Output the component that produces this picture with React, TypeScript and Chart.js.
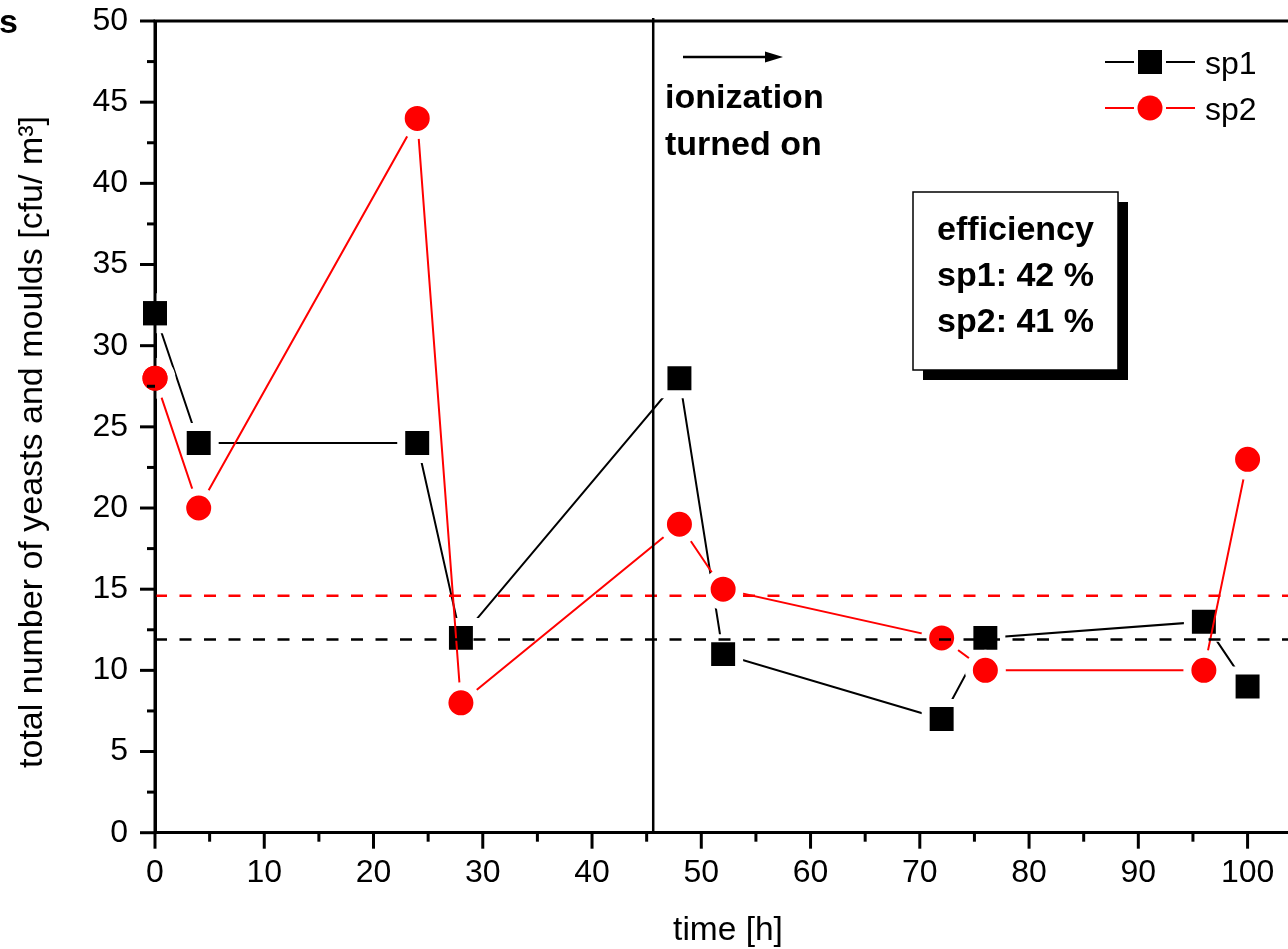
import React, { useEffect, useRef } from "react";
import { Chart, registerables } from "chart.js";

Chart.register(...registerables);

// ---------- data ----------
const timeHours = [0, 4, 24, 28, 48, 52, 72, 76, 96, 100];
const sp1Values = [32, 24, 24, 12, 28, 11, 7, 12, 13, 9];
const sp2Values = [28, 20, 44, 8, 19, 15, 12, 10, 10, 23];
const seriesLabels = ["sp1", "sp2"];
const seriesColors = ["#000000", "#ff0000"];

const xMajorTicks = [0, 10, 20, 30, 40, 50, 60, 70, 80, 90, 100];
const xMinorTicks = [5, 15, 25, 35, 45, 55, 65, 75, 85, 95];
const yMajorTicks = [0, 5, 10, 15, 20, 25, 30, 35, 40, 45, 50];
const yMinorTicks = [2.5, 7.5, 12.5, 17.5, 22.5, 27.5, 32.5, 37.5, 42.5, 47.5];

const ionizationTime = 45.6;
const sp1Level = 11.9;
const sp2Level = 14.6;

const xTitle = "time [h]";
const yTitle = "total number of yeasts and moulds [cfu/ m³]";
const annotationLines = ["ionization", "turned on"];
const efficiencyLines = ["efficiency", "sp1: 42 %", "sp2: 41 %"];
const cornerText = "s";

const FONT = '"Liberation Sans", Arial, Helvetica, sans-serif';

const decorPlugin = {
  id: "decor",
  afterDatasetsDraw(chart: any) {
    const { ctx, chartArea: a, scales } = chart;
    const xs = scales.x;
    const ys = scales.y;
    ctx.save();

    // reference (dashed) levels
    ctx.lineWidth = 2.5;
    ctx.setLineDash([12, 12.5]);
    const levels: [number, string][] = [
      [sp2Level, seriesColors[1]],
      [sp1Level, seriesColors[0]],
    ];
    levels.forEach(([v, c]) => {
      const y = ys.getPixelForValue(v);
      ctx.strokeStyle = c;
      ctx.beginPath();
      ctx.moveTo(a.left, y);
      ctx.lineTo(a.right, y);
      ctx.stroke();
    });
    ctx.setLineDash([]);

    // redraw left axis line and markers lying on it
    ctx.strokeStyle = "#000";
    ctx.lineWidth = 3;
    ctx.beginPath();
    ctx.moveTo(a.left, a.top);
    ctx.lineTo(a.left, a.bottom);
    ctx.stroke();
    chart.data.datasets.forEach((ds: any, di: number) => {
      const meta = chart.getDatasetMeta(di);
      meta.data.forEach((pt: any, i: number) => {
        if (ds.data[i].x !== xs.min) return;
        ctx.fillStyle = ds.borderColor;
        ctx.beginPath();
        if (ds.pointStyle === "rect") {
          ctx.rect(pt.x - 12, pt.y - 12, 24, 24);
        } else {
          ctx.arc(pt.x, pt.y, 12.5, 0, Math.PI * 2);
        }
        ctx.fill();
      });
    });

    // tick marks (outward)
    ctx.strokeStyle = "#000";
    ctx.lineWidth = 3;
    ctx.lineCap = "butt";
    const seg = (x1: number, y1: number, x2: number, y2: number) => {
      ctx.beginPath();
      ctx.moveTo(x1, y1);
      ctx.lineTo(x2, y2);
      ctx.stroke();
    };
    xMajorTicks.forEach((v) => {
      const x = xs.getPixelForValue(v);
      seg(x, a.bottom, x, a.bottom + 16);
    });
    xMinorTicks.forEach((v) => {
      const x = xs.getPixelForValue(v);
      seg(x, a.bottom, x, a.bottom + 9);
    });
    yMajorTicks.forEach((v) => {
      const y = ys.getPixelForValue(v);
      seg(a.left - 15, y, a.left, y);
    });
    yMinorTicks.forEach((v) => {
      const y = ys.getPixelForValue(v);
      seg(a.left - 8, y, a.left, y);
    });

    // top frame line
    seg(a.left - 1.5, a.top, a.right, a.top);

    // ionization vertical line
    const xi = xs.getPixelForValue(ionizationTime);
    ctx.lineWidth = 2.5;
    seg(xi, a.top - 3, xi, a.bottom);

    // arrow
    ctx.lineWidth = 2.5;
    seg(683, 57, 770, 57);
    ctx.fillStyle = "#000";
    ctx.beginPath();
    ctx.moveTo(783, 57);
    ctx.lineTo(765, 51.5);
    ctx.lineTo(765, 62.5);
    ctx.closePath();
    ctx.fill();

    // annotation text
    ctx.font = `bold 34px ${FONT}`;
    ctx.textAlign = "left";
    ctx.textBaseline = "alphabetic";
    ctx.fillText(annotationLines[0], 665, 108);
    ctx.fillText(annotationLines[1], 665, 155);

    // efficiency box with shadow
    const bx = 913, by = 192, bw = 205, bh = 178;
    ctx.fillStyle = "#000";
    ctx.fillRect(bx + 10, by + 10, bw, bh);
    ctx.fillStyle = "#fff";
    ctx.fillRect(bx, by, bw, bh);
    ctx.strokeStyle = "#000";
    ctx.lineWidth = 1.5;
    ctx.strokeRect(bx, by, bw, bh);
    ctx.fillStyle = "#000";
    ctx.font = `bold 34px ${FONT}`;
    ctx.textAlign = "center";
    const bcx = bx + bw / 2;
    ctx.fillText(efficiencyLines[0], bcx, 240);
    ctx.fillText(efficiencyLines[1], bcx, 286);
    ctx.fillText(efficiencyLines[2], bcx, 332);

    // legend
    const legendRows = [62, 108];
    seriesLabels.forEach((lab, i) => {
      const y = legendRows[i];
      const c = seriesColors[i];
      ctx.strokeStyle = c;
      ctx.lineWidth = 2;
      seg(1105, y, 1134, y);
      seg(1166, y, 1195, y);
      ctx.fillStyle = c;
      ctx.beginPath();
      if (i === 0) ctx.rect(1138, y - 12, 24, 24);
      else ctx.arc(1150, y, 12.5, 0, Math.PI * 2);
      ctx.fill();
      ctx.fillStyle = "#000";
      ctx.font = `32px ${FONT}`;
      ctx.textAlign = "left";
      ctx.fillText(lab, 1205, y + 11.5);
    });

    // axis titles
    ctx.fillStyle = "#000";
    ctx.font = `33.5px ${FONT}`;
    ctx.textAlign = "center";
    ctx.fillText(xTitle, 728, 940);
    ctx.save();
    ctx.translate(41.5, 442);
    ctx.rotate(-Math.PI / 2);
    ctx.font = `34px ${FONT}`;
    ctx.fillText(yTitle, 0, 0);
    ctx.restore();

    // clipped corner label
    ctx.font = `bold 34px ${FONT}`;
    ctx.textAlign = "left";
    ctx.fillText(cornerText, -1, 33);

    ctx.restore();
  },
};

export default function App() {
  const canvasRef = useRef<HTMLCanvasElement | null>(null);

  useEffect(() => {
    const canvas = canvasRef.current;
    if (!canvas) return;
    const mk = (vals: number[]) => vals.map((v, i) => ({ x: timeHours[i], y: v }));
    const chart = new Chart(canvas, {
      type: "line",
      data: {
        datasets: [
          {
            label: seriesLabels[0],
            data: mk(sp1Values),
            borderColor: seriesColors[0],
            backgroundColor: seriesColors[0],
            borderWidth: 2,
            pointStyle: "rect",
            pointRadius: 22.6,
            pointHoverRadius: 22.6,
            pointBackgroundColor: seriesColors[0],
            pointBorderColor: "#ffffff",
            pointBorderWidth: 8,
            tension: 0,
            fill: false,
            clip: false,
            order: 2,
          } as any,
          {
            label: seriesLabels[1],
            data: mk(sp2Values),
            borderColor: seriesColors[1],
            backgroundColor: seriesColors[1],
            borderWidth: 2,
            pointStyle: "circle",
            pointRadius: 16.5,
            pointHoverRadius: 16.5,
            pointBackgroundColor: seriesColors[1],
            pointBorderColor: "#ffffff",
            pointBorderWidth: 8,
            tension: 0,
            fill: false,
            clip: false,
            order: 1,
          } as any,
        ],
      },
      options: {
        responsive: false,
        animation: false,
        devicePixelRatio: 1,
        events: [],
        layout: { autoPadding: false, padding: { left: 0, top: 21, right: 0, bottom: 0 } },
        plugins: {
          legend: { display: false },
          tooltip: { enabled: false },
          title: { display: false },
        },
        scales: {
          x: {
            type: "linear",
            position: "bottom",
            min: 0,
            max: 103.7,
            afterFit: (s: any) => {
              s.height = 116.3;
              s.paddingLeft = 0;
              s.paddingRight = 0;
            },
            ticks: {
              stepSize: 10,
              includeBounds: false,
              autoSkip: false,
              maxRotation: 0,
              padding: 21,
              color: "#000",
              font: { family: FONT, size: 32 },
            },
            grid: { display: true, drawOnChartArea: false, drawTicks: false },
            border: { display: true, color: "#000", width: 3 },
          },
          y: {
            type: "linear",
            position: "left",
            min: 0,
            max: 50,
            afterFit: (s: any) => {
              s.width = 155;
              s.paddingTop = 0;
              s.paddingBottom = 0;
            },
            ticks: {
              stepSize: 5,
              autoSkip: false,
              padding: 27,
              color: "#000",
              font: { family: FONT, size: 32 },
            },
            grid: { display: true, drawOnChartArea: false, drawTicks: false },
            border: { display: true, color: "#000", width: 3 },
          },
        },
      } as any,
      plugins: [decorPlugin],
    });
    return () => chart.destroy();
  }, []);

  return (
    <div style={{ position: "absolute", left: 0, top: 0, width: 1288, height: 949, background: "#fff" }}>
      <canvas ref={canvasRef} width={1288} height={949} style={{ display: "block" }} />
    </div>
  );
}
